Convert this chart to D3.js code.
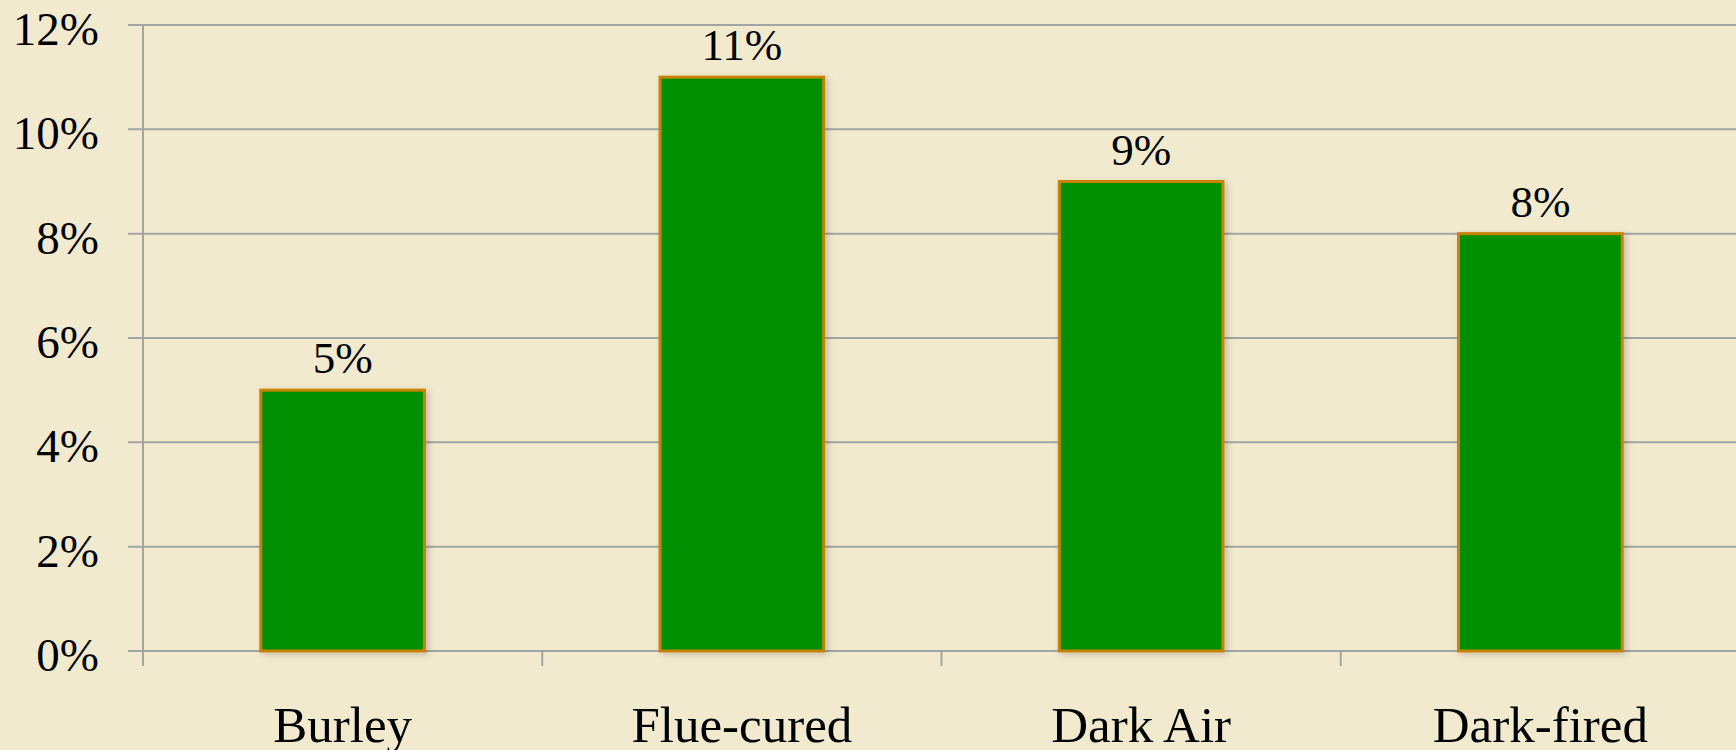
<!DOCTYPE html>
<meta charset="utf-8">
<head>
	<title>Tobacco types</title>
	<script type="text/javascript" src="https://cdn.jsdelivr.net/npm/d3@7/dist/d3.min.js"></script>
	<style>
		body { margin: 0; background: #f2eacf; overflow: hidden; }
		text { font-family: "Liberation Serif", "DejaVu Serif", serif; fill: #000; }
	</style>
</head>

<body>
	<div id="chart"></div>
</body>

<script>
	// values
	var categories = ["Burley", "Flue-cured", "Dark Air", "Dark-fired"];
	var shares = [0.05, 0.11, 0.09, 0.08];
	var yTicks = [0, 0.02, 0.04, 0.06, 0.08, 0.10, 0.12];

	var width = 1736, height = 750;
	var plotLeft = 143, plotRight = 1740, plotTop = 25, plotBottom = 651;

	var svg = d3.select("#chart").append("svg")
		.attr("width", width)
		.attr("height", height);

	svg.append("rect")
		.attr("width", width)
		.attr("height", height)
		.attr("fill", "#f2eacf");

	var defs = svg.append("defs");
	var shadow = defs.append("filter").attr("id", "shadow")
		.attr("x", "-10%").attr("y", "-10%").attr("width", "130%").attr("height", "130%");
	shadow.append("feDropShadow")
		.attr("dx", 3).attr("dy", 2).attr("stdDeviation", 3)
		.attr("flood-color", "#000").attr("flood-opacity", 0.18);

	var x = d3.scaleBand()
		.domain(categories)
		.range([plotLeft, plotRight])
		.paddingInner(0.59)
		.paddingOuter(0.295);

	var xOuter = d3.scaleBand()
		.domain(categories)
		.range([plotLeft, plotRight]);

	var y = d3.scaleLinear()
		.domain([0, 0.12])
		.range([plotBottom, plotTop]);

	// gridlines
	svg.append("g").selectAll("line")
		.data(yTicks)
		.enter().append("line")
			.attr("x1", 128)
			.attr("x2", width)
			.attr("y1", function(d) { return y(d); })
			.attr("y2", function(d) { return y(d); })
			.attr("stroke", "#a3a3a3")
			.attr("stroke-width", 2);

	// y axis line
	svg.append("line")
		.attr("x1", plotLeft).attr("x2", plotLeft)
		.attr("y1", plotTop).attr("y2", plotBottom + 15)
		.attr("stroke", "#a3a3a3")
		.attr("stroke-width", 2);

	// category ticks
	svg.append("g").selectAll("line")
		.data(categories.slice(1))
		.enter().append("line")
			.attr("x1", function(d) { return xOuter(d); })
			.attr("x2", function(d) { return xOuter(d); })
			.attr("y1", plotBottom)
			.attr("y2", plotBottom + 15)
			.attr("stroke", "#a3a3a3")
			.attr("stroke-width", 2);

	// y tick labels
	svg.append("g").selectAll("text")
		.data(yTicks)
		.enter().append("text")
			.attr("x", 99)
			.attr("y", function(d) { return y(d) + 20; })
			.attr("text-anchor", "end")
			.style("font-size", "47px")
			.text(d3.format(".0%"));

	// bars
	svg.append("g").selectAll("rect")
		.data(shares)
		.enter().append("rect")
			.attr("x", function(d, i) { return x(categories[i]); })
			.attr("y", function(d) { return y(d); })
			.attr("width", x.bandwidth())
			.attr("height", function(d) { return plotBottom - y(d); })
			.attr("fill", "#008f00")
			.attr("stroke", "#c98300")
			.attr("stroke-width", 3)
			.attr("filter", "url(#shadow)");

	// value labels
	svg.append("g").selectAll("text")
		.data(shares)
		.enter().append("text")
			.attr("x", function(d, i) { return x(categories[i]) + x.bandwidth() / 2; })
			.attr("y", function(d) { return y(d) - 17; })
			.attr("text-anchor", "middle")
			.style("font-size", "45px")
			.text(d3.format(".0%"));

	// category labels
	svg.append("g").selectAll("text")
		.data(categories)
		.enter().append("text")
			.attr("x", function(d) { return xOuter(d) + xOuter.bandwidth() / 2; })
			.attr("y", 742)
			.attr("text-anchor", "middle")
			.style("font-size", "51px")
			.text(function(d) { return d; });
</script>
